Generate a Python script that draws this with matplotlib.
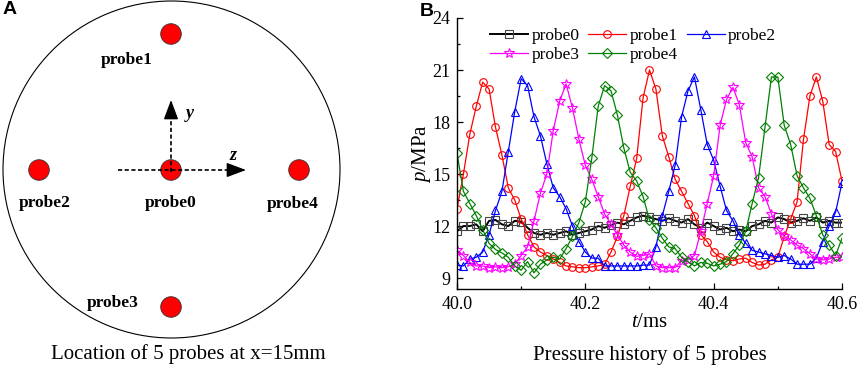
import matplotlib
matplotlib.use('Agg')
import matplotlib.pyplot as plt
import numpy as np
from matplotlib.patches import Circle
from matplotlib.ticker import MultipleLocator

plt.rcParams['font.family'] = 'serif'
plt.rcParams['font.serif'] = ['Liberation Serif', 'DejaVu Serif']
plt.rcParams['mathtext.fontset'] = 'custom'
plt.rcParams['mathtext.rm'] = 'Liberation Serif'
plt.rcParams['mathtext.it'] = 'Liberation Serif:italic'

# ---- panel A: probe layout (schematic, pixel-like units) ----
probe_names = ['probe0', 'probe1', 'probe2', 'probe3', 'probe4']
probe_x = [171, 171, 39, 171, 299]
probe_y = [170, 34, 170, 307, 170]
label_x = [171, 127, 45, 113, 293]
label_y = [203, 60, 203, 303, 204]

# ---- panel B: pressure history, t in ms, p in MPa ----
t = np.round(np.arange(40.0, 40.6001, 0.01), 2)
p0 = [11.7, 12.0, 12.0, 12.1, 11.7, 12.3, 12.35, 12.1, 12.0, 12.3,
      12.25, 11.9, 11.6, 11.5, 11.6, 11.5, 11.6, 11.7, 11.5, 11.6,
      11.7, 11.8, 12.0, 11.9, 12.05, 12.2, 12.1, 12.3, 12.5, 12.6,
      12.5, 12.4, 12.3, 12.45, 12.3, 12.2, 12.4, 12.1, 11.9, 12.2,
      12.0, 11.8, 11.9, 11.7, 11.8, 11.7, 12.0, 12.1, 12.3, 12.2,
      12.5, 12.4, 12.2, 12.3, 12.45, 12.3, 12.5, 12.2, 12.3, 12.2,
      12.2]
p1 = [13.0, 15.0, 17.3, 18.9, 20.3, 19.9, 17.7, 16.1, 14.2, 13.5,
      12.4, 11.5, 10.8, 10.5, 10.3, 10.1, 9.9, 9.7, 9.65, 9.6,
      9.6, 9.65, 9.7, 9.8, 10.5, 11.4, 12.6, 14.3, 15.9, 19.4,
      21.0, 19.9, 17.2, 16.0, 14.7, 14.0, 13.3, 12.6, 11.5, 11.1,
      10.5, 10.2, 10.05, 10.0, 10.1, 10.15, 9.9, 9.75, 9.8, 10.05,
      10.2, 11.4, 12.4, 13.4, 17.0, 19.5, 20.6, 19.2, 16.7, 16.3,
      14.6]
p2 = [9.75, 9.7, 10.1, 10.2, 10.5, 11.5, 12.9, 14.0, 16.3, 18.6,
      20.5, 20.1, 18.3, 17.2, 15.6, 14.2, 13.7, 13.0, 12.0, 11.1,
      10.5, 10.15, 10.15, 9.7, 9.7, 9.7, 9.7, 9.7, 9.7, 9.75,
      9.75, 10.8, 12.6, 14.0, 15.5, 18.3, 19.8, 20.6, 18.7, 16.7,
      15.8, 14.3, 12.9, 12.3, 11.5, 11.0, 10.6, 10.5, 10.4, 10.3,
      10.2, 10.3, 10.1, 9.8, 9.8, 9.8, 10.15, 11.1, 12.0, 12.8,
      14.5]
p3 = [10.6, 10.3, 9.9, 9.7, 9.7, 9.6, 9.65, 9.6, 9.65, 9.8,
      10.3, 10.8, 12.3, 13.9, 15.0, 17.5, 19.2, 20.2, 18.8, 17.0,
      15.5, 14.7, 13.7, 12.7, 12.1, 11.5, 10.9, 10.5, 10.25, 10.3,
      10.4, 9.7, 9.6, 9.6, 9.6, 10.0, 10.05, 10.3, 11.7, 13.3,
      14.9, 17.8, 19.3, 20.0, 19.0, 16.8, 16.0, 14.2, 13.7, 12.7,
      11.8, 11.4, 11.2, 10.9, 10.7, 10.4, 10.1, 10.05, 10.1, 10.2,
      10.2]
p4 = [16.2, 14.0, 13.3, 12.6, 11.8, 11.0, 10.65, 10.45, 10.2, 9.7,
      9.45, 9.95, 9.3, 9.8, 10.05, 10.2, 10.1, 10.7, 11.4, 12.2,
      13.4, 15.9, 18.9, 20.1, 19.8, 18.4, 16.5, 15.1, 14.6, 13.7,
      12.35, 11.9, 11.3, 10.8, 10.7, 10.2, 9.95, 9.7, 9.9, 9.85,
      9.7, 9.8, 9.95, 10.4, 10.9, 11.7, 13.3, 14.8, 17.7, 20.6,
      20.6, 17.8, 16.7, 14.9, 14.2, 13.6, 12.6, 11.5, 10.9, 10.3,
      11.3]

fig = plt.figure(figsize=(8.58, 3.67), dpi=100)

# panel A, data units = pixels of the figure region
axa = fig.add_axes([0, 0, 420 / 858, 1])
axa.set_xlim(0, 420)
axa.set_ylim(367, 0)
axa.axis('off')
axa.add_patch(Circle((171.5, 169.5), 168.5, fill=False, ec='black', lw=0.8))
for x, y in zip(probe_x, probe_y):
    axa.add_patch(Circle((x, y), 10.3, fc='#ff0000', ec='#333333', lw=0.6, zorder=2))
for name, x, y in zip(probe_names, label_x, label_y):
    axa.text(x, y, name, ha='center', va='center', fontsize=12.5, fontweight='bold')

# dashed coordinate arrows
axa.plot([171, 171], [172, 116], color='black', lw=1.2, dashes=(2.5, 1.5), zorder=3)
axa.plot([118, 230], [170, 170], color='black', lw=1.2, dashes=(2.5, 1.5), zorder=3)
axa.annotate('', xy=(171, 100), xytext=(171, 118),
             arrowprops=dict(arrowstyle='-|>,head_length=1.2,head_width=0.45',
                             color='black', lw=1.0, shrinkA=0, shrinkB=0), zorder=3)
axa.annotate('', xy=(246, 170), xytext=(228, 170),
             arrowprops=dict(arrowstyle='-|>,head_length=1.2,head_width=0.45',
                             color='black', lw=1.0, shrinkA=0, shrinkB=0), zorder=3)
axa.text(190, 113, 'y', fontsize=13, style='italic', fontweight='bold', ha='center', va='center')
axa.text(233, 155, 'z', fontsize=13, style='italic', fontweight='bold', ha='center', va='center')

fig.text(10 / 858, 1 - 10 / 367, 'A', family='Liberation Sans', fontweight='bold',
         fontsize=14, ha='center', va='center')
fig.text(188 / 858, 1 - 354 / 367, 'Location of 5 probes at x=15mm', fontsize=15,
         ha='center', va='center')

# panel B
ax = fig.add_axes([457 / 858, (367 - 289) / 367, 385 / 858, 271 / 367])
series = [p0, p1, p2, p3, p4]
colors = ['black', '#ff0000', '#0000ff', '#ff00ff', '#008000']
markers = ['s', 'o', '^', '*', 'D']
msizes = [5.5, 5.5, 6, 7, 5.5]
lines = []
for name, p, c, m, ms in zip(probe_names, series, colors, markers, msizes):
    lw = 1.4 if name == 'probe0' else 0.9
    mec = '#444444' if name == 'probe0' else c
    ln, = ax.plot(t, p, color=c, lw=lw, marker=m, ms=ms, mfc='none', mec=mec, mew=0.8,
                  label=name)
    lines.append(ln)

ax.set_xlim(40.0, 40.6)
ax.set_ylim(8.37, 24)
ax.set_xticks([40.0, 40.2, 40.4, 40.6])
ax.set_xticklabels(['40.0', '40.2', '40.4', '40.6'])
ax.set_yticks([9, 12, 15, 18, 21, 24])
ax.xaxis.set_minor_locator(MultipleLocator(0.1))
ax.yaxis.set_minor_locator(MultipleLocator(1.5))
ax.tick_params(which='both', direction='in', labelsize=13, width=0.9)
ax.tick_params(which='major', length=4.5, pad=5)
ax.tick_params(which='minor', length=2.5)
ax.spines['top'].set_visible(False)
ax.spines['right'].set_visible(False)
for s in ['left', 'bottom']:
    ax.spines[s].set_linewidth(1.0)
ax.set_xlabel(r'$t$/ms', fontsize=15, labelpad=0)
ax.set_ylabel(r'$p$/MPa', fontsize=15, labelpad=-1)

# row-wise legend order (matplotlib fills columns first)
order = [0, 3, 1, 4, 2]
ax.legend([lines[i] for i in order], [probe_names[i] for i in order],
          ncol=3, loc='upper left', bbox_to_anchor=(0.085, 0.965), frameon=False,
          fontsize=12.5, handlelength=2.2, handletextpad=0.2, columnspacing=0.5,
          labelspacing=0.2, borderaxespad=0, borderpad=0, numpoints=1)

fig.text(427 / 858, 1 - 11 / 367, 'B', family='Liberation Sans', fontweight='bold',
         fontsize=14, ha='center', va='center')
fig.text(650 / 858, 1 - 355 / 367, 'Pressure history of 5 probes', fontsize=15,
         ha='center', va='center')

fig.savefig('out.png', dpi=100)
